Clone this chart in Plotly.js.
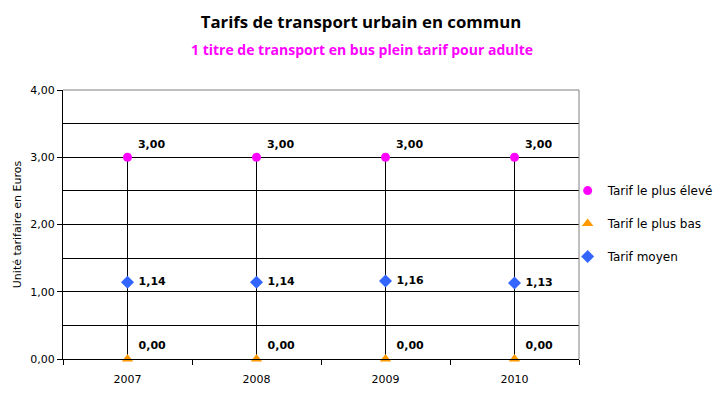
<!DOCTYPE html>
<html>
<head>
<meta charset="utf-8">
<script src="https://cdn.plot.ly/plotly-3.0.1.min.js"></script>
<style>html,body{margin:0;padding:0;background:#fff;}#chart{width:722px;height:399px;}</style>
</head>
<body>
<div id="chart"></div>
<script>
const years = ["2007", "2008", "2009", "2010"];
const tarifHaut = [3.00, 3.00, 3.00, 3.00];
const tarifBas = [0.00, 0.00, 0.00, 0.00];
const tarifMoyen = [1.14, 1.14, 1.16, 1.13];
const yTicks = [0, 1, 2, 3, 4];

// high-low lines built from the data
const hlX = [], hlY = [];
years.forEach((yr, i) => { hlX.push(yr, yr, null); hlY.push(tarifBas[i], tarifHaut[i], null); });

const lblFont = {family: "DejaVu Sans", size: 11, color: "#000"};
const traces = [
  {x: hlX, y: hlY, type: "scatter", mode: "lines", line: {color: "#000", width: 1}, showlegend: false, hoverinfo: "skip"},
  {x: years, y: tarifHaut, name: "Tarif le plus élevé", type: "scatter", mode: "markers+text",
   marker: {symbol: "circle", size: 9, color: "#FF00FF"},
   text: tarifHaut, texttemplate: "<b> %{y:.2f}</b>", textposition: "top right", textfont: lblFont, legendgroup: "a"},
  {x: years, y: tarifBas, name: "Tarif le plus bas", type: "scatter", mode: "markers+text",
   marker: {symbol: "triangle-up", size: 10, color: "#FF9900"},
   text: tarifBas, texttemplate: "<b> %{y:.2f}</b>", textposition: "top right", textfont: lblFont, legendgroup: "b", cliponaxis: false},
  {x: years, y: tarifMoyen, name: "Tarif moyen", type: "scatter", mode: "markers+text",
   marker: {symbol: "diamond", size: 10, color: "#3366FF"},
   text: tarifMoyen, texttemplate: "<b> %{y:.2f}</b>", textposition: "middle right", textfont: lblFont, legendgroup: "c"}
];

const layout = {
  width: 722, height: 399,
  margin: {l: 63, r: 143, t: 90, b: 40, autoexpand: false},
  paper_bgcolor: "#fff", plot_bgcolor: "#fff",
  separators: ", ",
  title: {text: "<b>Tarifs de transport urbain en commun</b>", x: 0.5, xanchor: "center", y: 0.945, yanchor: "middle",
          font: {family: "Open Sans", size: 16.8, color: "#000"}},
  annotations: [{text: "<b>1 titre de transport en bus plein tarif pour adulte</b>", xref: "paper", yref: "paper",
    x: (362 - 63) / 516, y: (399 - 40 - 50) / 269, xanchor: "center", yanchor: "middle", showarrow: false,
    font: {family: "Open Sans", size: 14, color: "#FF00FF"}}],
  xaxis: {type: "category", categoryarray: years, range: [-0.5, 3.5], tickson: "boundaries", ticks: "outside", ticklen: 5,
          tickcolor: "#000", showline: true, linecolor: "#000", linewidth: 1, showgrid: false, zeroline: false,
          ticklabelstandoff: 10,
          tickfont: {family: "DejaVu Sans", size: 11, color: "#000"}, fixedrange: true},
  yaxis: {range: [0, 4], tickvals: yTicks, tickformat: ".2f", ticks: "outside", ticklen: 5, tickcolor: "#000",
          showline: true, linecolor: "#000", linewidth: 1, showgrid: true, gridcolor: "#000", gridwidth: 1, zeroline: false,
          minor: {dtick: 0.5, showgrid: true, gridcolor: "#000", gridwidth: 1, ticks: ""},
          tickfont: {family: "DejaVu Sans", size: 11, color: "#000"},
          title: {text: "Unité tarifaire en Euros", font: {family: "DejaVu Sans", size: 11, color: "#000"}, standoff: 6}},
  legend: {x: 0.978, xanchor: "left", y: 0.68, yanchor: "top", traceorder: "grouped", tracegroupgap: 14,
           font: {family: "DejaVu Sans", size: 12, color: "#000"}, bgcolor: "rgba(0,0,0,0)", itemwidth: 30},
  shapes: [
    {type: "line", xref: "paper", yref: "paper", x0: 0, x1: 1, y0: 1, y1: 1, line: {color: "#808080", width: 1}, layer: "above"},
    {type: "line", xref: "paper", yref: "paper", x0: 1, x1: 1, y0: 0, y1: 1, line: {color: "#808080", width: 1}, layer: "above"}
  ]
};

Plotly.newPlot("chart", traces, layout, {displayModeBar: false, staticPlot: true});
</script>
</body>
</html>
